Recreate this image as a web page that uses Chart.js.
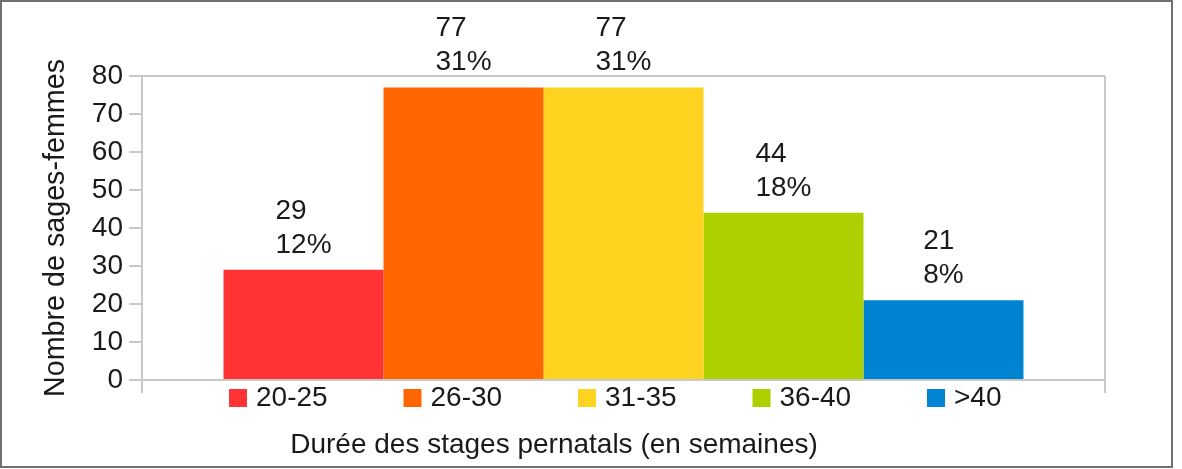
<!DOCTYPE html>
<html lang="fr">
<head>
<meta charset="utf-8">
<title>Durée des stages pernatals</title>
<script src="https://cdn.jsdelivr.net/npm/chart.js@4.4.1/dist/chart.umd.min.js"></script>
<style>
  html, body { margin: 0; padding: 0; background: #fff; }
</style>
</head>
<body>
<canvas id="graphique" width="1182" height="469"></canvas>
<script>
// Données
const durees = ['20-25', '26-30', '31-35', '36-40', '>40'];
const effectifs = [29, 77, 77, 44, 21];
const pourcentages = ['12%', '31%', '31%', '18%', '8%'];
const couleurs = ['#ff3333', '#ff6600', '#ffd320', '#aecf00', '#0084d1'];
const yMax = 80;
const yPas = 10;

const police = "'Liberation Sans', Arial, sans-serif";
const couleurTexte = '#1a1a1a';
const gris = '#c8c8c8';

// cadre, étiquettes des barres, légende et titre de l'axe horizontal
const decor = {
    id: 'decor',
    beforeDraw(chart) {
        const ctx = chart.ctx;
        ctx.save();
        ctx.fillStyle = '#fff';
        ctx.fillRect(0, 0, chart.width, chart.height);
        ctx.strokeStyle = '#707070';
        ctx.lineWidth = 2;
        ctx.strokeRect(1, 1, chart.width - 11, chart.height - 3);
        ctx.restore();
    },
    afterDatasetsDraw(chart) {
        const ctx = chart.ctx;
        ctx.save();
        ctx.font = '28px ' + police;
        ctx.fillStyle = couleurTexte;
        ctx.textAlign = 'left';
        ctx.textBaseline = 'alphabetic';
        chart.data.datasets.forEach((ds, i) => {
            const barre = chart.getDatasetMeta(i).data[0];
            const lignes = [String(effectifs[i]), pourcentages[i]];
            const larg = Math.max(...lignes.map(l => ctx.measureText(l).width));
            const x = barre.x - larg / 2;
            ctx.fillText(lignes[0], x, barre.y - 51);
            ctx.fillText(lignes[1], x, barre.y - 17);
        });
        ctx.restore();
    },
    afterDraw(chart) {
        const ctx = chart.ctx;
        const zone = chart.chartArea;
        ctx.save();
        ctx.font = '28px ' + police;
        ctx.fillStyle = couleurTexte;
        ctx.textBaseline = 'middle';
        ctx.textAlign = 'left';
        // légende sous l'axe
        chart.data.datasets.forEach((ds, i) => {
            const x = zone.left + 87 + i * 174.5;
            ctx.fillStyle = ds.backgroundColor;
            ctx.fillRect(x, zone.bottom + 9, 18, 18);
            ctx.fillStyle = couleurTexte;
            ctx.fillText(ds.label, x + 27, zone.bottom + 18);
        });
        // titre de l'axe X
        ctx.textAlign = 'center';
        ctx.textBaseline = 'alphabetic';
        ctx.fillText('Durée des stages pernatals (en semaines)', zone.left + 412, zone.bottom + 73);
        ctx.restore();
    }
};

const jeux = durees.map((d, i) => ({
    label: d,
    data: [effectifs[i]],
    backgroundColor: couleurs[i],
    borderWidth: 0,
    barPercentage: 1,
    categoryPercentage: 0.8307
}));

new Chart(document.getElementById('graphique'), {
    type: 'bar',
    data: {
        labels: [''],
        datasets: jeux
    },
    plugins: [decor],
    options: {
        responsive: false,
        animation: false,
        layout: {
            padding: { top: 76, right: 77, bottom: 0, left: 0 }
        },
        plugins: {
            legend: { display: false },
            tooltip: { enabled: false }
        },
        scales: {
            x: {
                offset: true,
                afterFit: s => { s.height = 89; },
                ticks: { display: false },
                grid: {
                    offset: true,
                    color: gris,
                    lineWidth: 2,
                    tickLength: 13,
                    drawTicks: true
                },
                border: { color: gris, width: 2 }
            },
            y: {
                min: 0,
                max: yMax,
                afterFit: s => { s.width = 142; },
                ticks: {
                    stepSize: yPas,
                    padding: 6,
                    color: couleurTexte,
                    font: { family: police, size: 28 }
                },
                grid: {
                    color: c => (c.tick && c.tick.value === yMax) ? gris : 'rgba(0,0,0,0)',
                    tickColor: gris,
                    lineWidth: 2,
                    tickLength: 13
                },
                border: { color: gris, width: 2 },
                title: {
                    display: true,
                    text: 'Nombre de sages-femmes',
                    color: couleurTexte,
                    font: { family: police, size: 28.7 },
                    padding: { top: 39, bottom: 0 }
                }
            }
        }
    }
});
</script>
</body>
</html>
